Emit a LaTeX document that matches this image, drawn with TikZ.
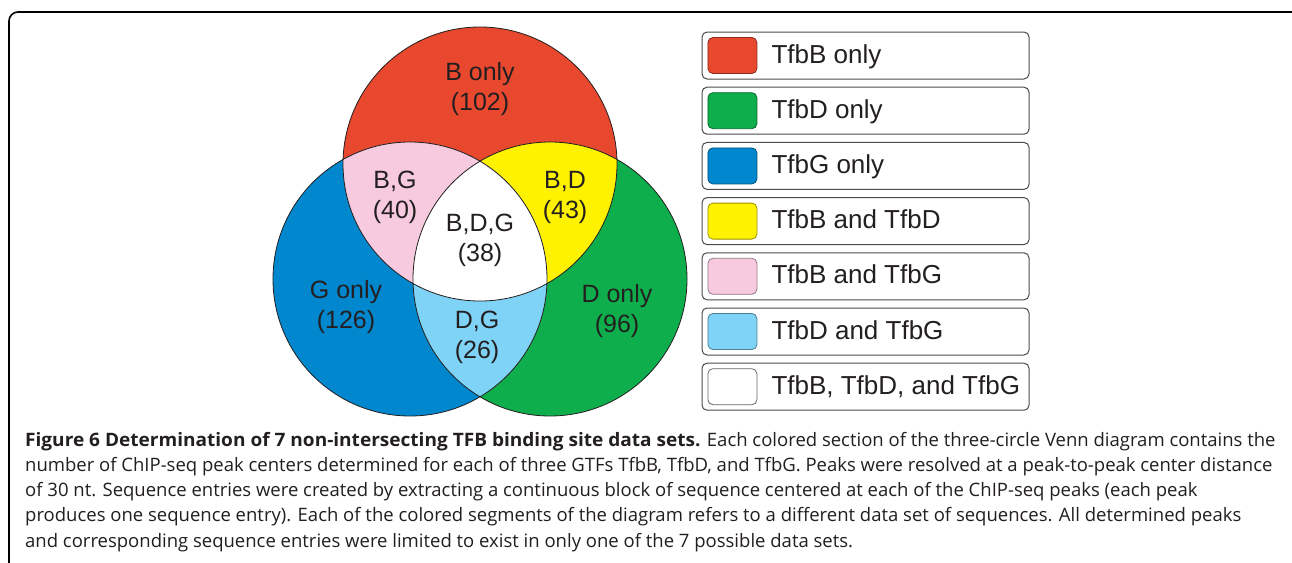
\documentclass[tikz,border=0pt]{standalone}
\usepackage{fontspec}
\setmainfont{Liberation Sans}
\newfontfamily\capfont[BoldFeatures={FakeStretch=1.03}]{Open Sans}
\usepackage{xcolor}
\usepackage{tikz}
\usetikzlibrary{positioning,calc}

\definecolor{ink}{HTML}{231F20}
\definecolor{onlyB}{HTML}{E8482E}
\definecolor{onlyD}{HTML}{0DAE4B}
\definecolor{onlyG}{HTML}{0087CD}
\definecolor{andBD}{HTML}{FFF200}
\definecolor{andBG}{HTML}{F7CADF}
\definecolor{andDG}{HTML}{7FD3F6}

\newcommand{\vennr}{137pt}

\tikzstyle{venn}=[draw=ink,line width=0.8pt]
\tikzstyle{lbl}=[font=\fontsize{25}{30}\selectfont,text=ink,inner sep=0pt,anchor=base]
\tikzstyle{entry}=[draw=black!70,line width=1pt,rounded corners=5pt,minimum width=327pt,minimum height=47pt,inner sep=0pt]
\tikzstyle{swatch}=[line width=0.8pt,rounded corners=5pt,minimum width=49pt,minimum height=36pt,inner sep=0pt]
\tikzstyle{keytext}=[font=\fontsize{26}{30}\selectfont,text=ink,inner sep=0pt,text height=19pt,text depth=4pt]
\tikzstyle{captext}=[font=\capfont\fontsize{18.5}{25}\selectfont,text=ink,inner sep=0pt,anchor=base west]

\begin{document}
\begin{tikzpicture}[x=1pt,y=-1pt]
    \clip (0,0) rectangle (1292,562);
    \fill[white] (0,0) rectangle (1292,562);
    % outer frame, cut off at right and bottom
    \draw[line width=1.6pt,rounded corners=9pt] (9,12) rectangle (1310,590);

    % venn diagram
    \coordinate (cB) at (480,164);
    \coordinate (cG) at (410,279);
    \coordinate (cD) at (550,279);
    \fill[onlyB] (cB) circle[radius=\vennr];
    \fill[onlyG] (cG) circle[radius=\vennr];
    \fill[onlyD] (cD) circle[radius=\vennr];
    \begin{scope}
       \clip (cB) circle[radius=\vennr];
       \fill[andBG] (cG) circle[radius=\vennr];
       \fill[andBD] (cD) circle[radius=\vennr];
    \end{scope}
    \begin{scope}
       \clip (cG) circle[radius=\vennr];
       \fill[andDG] (cD) circle[radius=\vennr];
       \clip (cB) circle[radius=\vennr];
       \fill[white] (cD) circle[radius=\vennr];
    \end{scope}
    \draw[venn] (cB) circle[radius=\vennr];
    \draw[venn] (cG) circle[radius=\vennr];
    \draw[venn] (cD) circle[radius=\vennr];

    \node[lbl] (bname) at (480,80) {B only};
    \node[lbl] (bnum) at (480,110) {(102)};
    \node[lbl] (bgname) at (395,188) {B,G};
    \node[lbl] (bgnum) at (395,218) {(40)};
    \node[lbl] (bdname) at (565,188) {B,D};
    \node[lbl] (bdnum) at (565,218) {(43)};
    \node[lbl] (bdgname) at (480,231) {B,D,G};
    \node[lbl] (bdgnum) at (480,261) {(38)};
    \node[lbl] (gname) at (346,298) {G only};
    \node[lbl] (gnum) at (346,328) {(126)};
    \node[lbl] (dname) at (617,302) {D only};
    \node[lbl] (dnum) at (617,332) {(96)};
    \node[lbl] (dgname) at (477,328) {D,G};
    \node[lbl] (dgnum) at (477,358) {(26)};

    % legend
    \node[entry] (b1) at (865.5,55.5) {};
    \node[entry,below=7.2pt of b1] (b2) {};
    \node[entry,below=7.2pt of b2] (b3) {};
    \node[entry,below=7.2pt of b3] (b4) {};
    \node[entry,below=7.2pt of b4] (b5) {};
    \node[entry,below=7.2pt of b5] (b6) {};
    \node[entry,below=7.2pt of b6] (b7) {};

    \node[swatch,fill=onlyB,draw=onlyB!60!black,right=6pt of b1.west] (s1) {};
    \node[swatch,fill=onlyD,draw=onlyD!60!black,right=6pt of b2.west] (s2) {};
    \node[swatch,fill=onlyG,draw=onlyG!60!black,right=6pt of b3.west] (s3) {};
    \node[swatch,fill=andBD,draw=andBD!60!black,right=6pt of b4.west] (s4) {};
    \node[swatch,fill=andBG,draw=andBG!60!black,right=6pt of b5.west] (s5) {};
    \node[swatch,fill=andDG,draw=andDG!60!black,right=6pt of b6.west] (s6) {};
    \node[swatch,fill=white,draw=black!60,right=6pt of b7.west] (s7) {};

    \node[keytext,right=14pt of s1] (t1) {TfbB only};
    \node[keytext,right=14pt of s2] (t2) {TfbD only};
    \node[keytext,right=14pt of s3] (t3) {TfbG only};
    \node[keytext,right=14pt of s4] (t4) {TfbB and TfbD};
    \node[keytext,right=14pt of s5] (t5) {TfbB and TfbG};
    \node[keytext,right=14pt of s6] (t6) {TfbD and TfbG};
    \node[keytext,right=14pt of s7] (t7) {TfbB, TfbD, and TfbG};

    % caption
    \node[captext] (cap1) at (25,446) {\bfseries Figure 6 Determination of 7 non-intersecting TFB binding site data sets.\mdseries{} Each colored section of the three-circle Venn diagram contains the};
    \node[captext] (cap2) at (25,471.3) {number of ChIP-seq peak centers determined for each of three GTFs TfbB, TfbD, and TfbG. Peaks were resolved at a peak-to-peak center distance};
    \node[captext] (cap3) at (25,496.6) {of 30 nt. Sequence entries were created by extracting a continuous block of sequence centered at each of the ChIP-seq peaks (each peak};
    \node[captext] (cap4) at (25,521.9) {produces one sequence entry). Each of the colored segments of the diagram refers to a different data set of sequences. All determined peaks};
    \node[captext] (cap5) at (25,547) {and corresponding sequence entries were limited to exist in only one of the 7 possible data sets.};
\end{tikzpicture}
\end{document}
